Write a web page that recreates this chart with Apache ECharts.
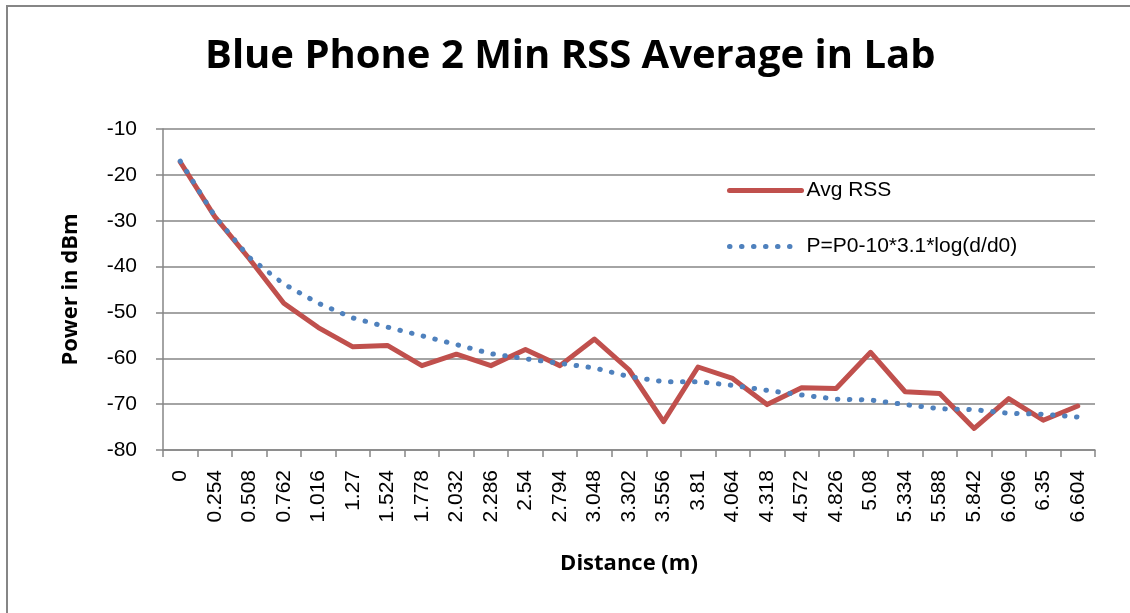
<!DOCTYPE html>
<html>
<head>
<meta charset="utf-8">
<script src="https://cdn.jsdelivr.net/npm/echarts@6/dist/echarts.min.js"></script>
<style>
html,body{margin:0;padding:0;background:#fff;}
#chart{width:1130px;height:613px;}
</style>
</head>
<body>
<div id="chart"></div>
<script>
const distances = ['0','0.254','0.508','0.762','1.016','1.27','1.524','1.778','2.032','2.286','2.54','2.794','3.048','3.302','3.556','3.81','4.064','4.318','4.572','4.826','5.08','5.334','5.588','5.842','6.096','6.35','6.604'];
const avgRss = [-17.2,-29.1,-38.3,-48.0,-53.3,-57.5,-57.2,-61.6,-59.1,-61.6,-58.1,-61.6,-55.8,-62.5,-73.8,-61.9,-64.4,-70.1,-66.4,-66.6,-58.7,-67.3,-67.7,-75.3,-68.8,-73.5,-70.4];
const modelP = [-17.0,-29.0,-38.0,-43.8,-48.0,-51.2,-53.2,-55.1,-57.0,-59.0,-60.1,-61.1,-62.1,-64.0,-65.1,-65.1,-65.9,-67.0,-68.0,-68.9,-69.1,-70.1,-71.0,-71.2,-72.0,-72.2,-72.8];
const yTicks = {min: -80, max: -10, step: 10};

const grey = '#868686';
const red = '#C0504D';
const blue = '#4F81BD';
const dotted = [0.5, 11.5];
const chart = echarts.init(document.getElementById('chart'), null, {renderer: 'canvas'});
chart.setOption({
  backgroundColor: '#ffffff',
  animation: false,
  title: {
    text: 'Blue Phone 2 Min RSS Average in Lab',
    left: 205,
    top: 37,
    padding: 0,
    textStyle: {fontFamily: 'Open Sans', fontWeight: 'bold', fontSize: 40, color: '#000'}
  },
  graphic: [{
    type: 'rect',
    shape: {x: 7, y: 6, width: 1300, height: 800},
    style: {fill: 'none', stroke: grey, lineWidth: 2},
    silent: true
  }],
  legend: {
    orient: 'vertical',
    left: 727,
    top: 180,
    itemWidth: 72,
    itemHeight: 22,
    itemGap: 35,
    padding: 0,
    itemStyle: {opacity: 0},
    textStyle: {fontFamily: 'Liberation Sans', fontSize: 21, color: '#000'},
    data: [
      {name: 'Avg RSS', lineStyle: {color: red, width: 5, cap: 'round', type: 'solid'}},
      {name: 'P=P0-10*3.1*log(d/d0)', lineStyle: {color: blue, width: 5, cap: 'round', type: dotted}}
    ]
  },
  grid: {left: 163, right: 35, top: 129, bottom: 163, containLabel: false},
  xAxis: {
    type: 'category',
    data: distances,
    boundaryGap: true,
    name: 'Distance (m)',
    nameLocation: 'middle',
    nameGap: 103,
    nameTextStyle: {fontFamily: 'Open Sans', fontWeight: 'bold', fontSize: 22, color: '#000'},
    axisLine: {show: true, lineStyle: {color: grey, width: 1.5}},
    axisTick: {show: true, interval: 0, length: 7, lineStyle: {color: grey, width: 1.5}},
    axisLabel: {interval: 0, rotate: 90, margin: 20, fontFamily: 'Liberation Sans', fontSize: 21, color: '#000'},
    splitLine: {show: false}
  },
  yAxis: {
    type: 'value',
    min: yTicks.min,
    max: yTicks.max,
    interval: yTicks.step,
    name: 'Power in dBm',
    nameLocation: 'middle',
    nameRotate: 90,
    nameGap: 81,
    nameTextStyle: {fontFamily: 'Open Sans', fontWeight: 'bold', fontSize: 22, color: '#000'},
    axisLine: {show: true, lineStyle: {color: grey, width: 1.5}},
    axisTick: {show: true, length: 7, lineStyle: {color: grey, width: 1.5}},
    axisLabel: {margin: 26, fontFamily: 'Liberation Sans', fontSize: 21, color: '#000'},
    splitLine: {show: true, lineStyle: {color: grey, width: 1.5}}
  },
  series: [
    {
      name: 'Avg RSS',
      type: 'line',
      data: avgRss,
      symbol: 'none',
      lineStyle: {color: red, width: 5, join: 'round', cap: 'round'},
      itemStyle: {color: red},
      z: 2
    },
    {
      name: 'P=P0-10*3.1*log(d/d0)',
      type: 'line',
      data: modelP,
      symbol: 'none',
      lineStyle: {color: blue, width: 5, type: dotted, cap: 'round'},
      itemStyle: {color: blue},
      z: 3
    }
  ]
});
</script>
</body>
</html>
